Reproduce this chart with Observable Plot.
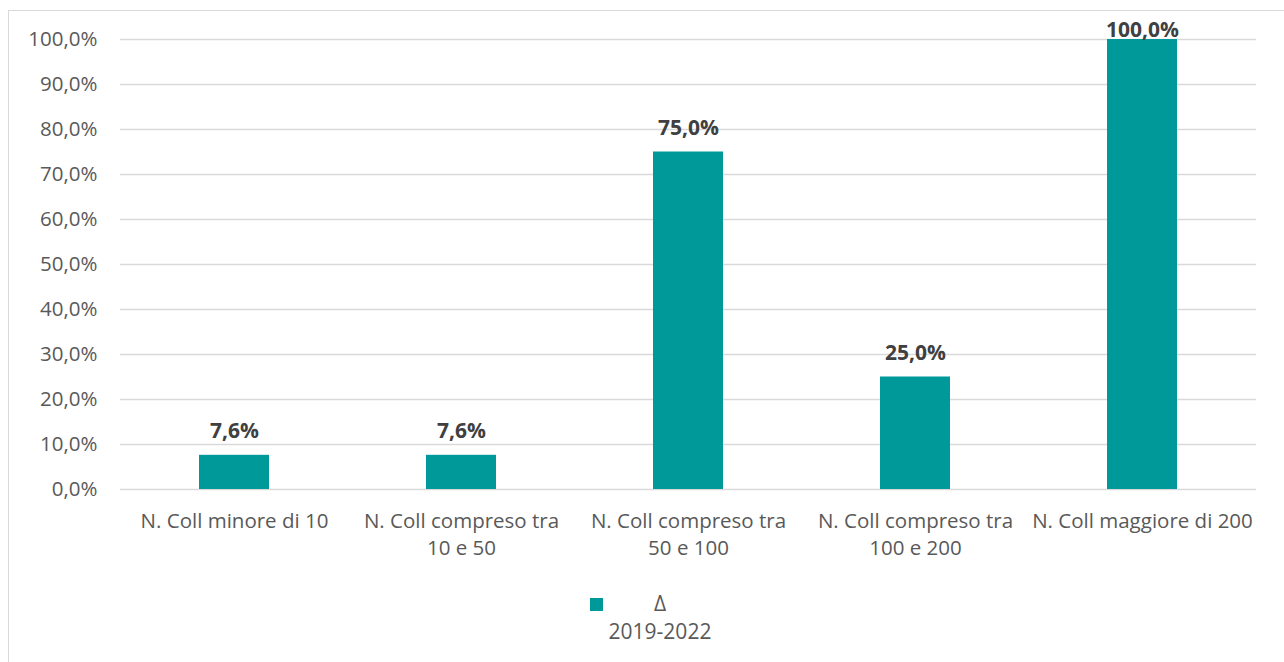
<!DOCTYPE html>
<html><head><meta charset="utf-8">
<script src="https://cdn.jsdelivr.net/npm/d3@7"></script>
<script src="https://cdn.jsdelivr.net/npm/@observablehq/plot@0.6"></script>
<style>
body{margin:0;background:#fff;font-family:"Open Sans",sans-serif;}
#wrap{position:relative;width:1284px;height:662px;overflow:hidden;}
#frame{position:absolute;left:8px;top:10px;width:1300px;height:700px;border:1px solid #d9d9d9;box-sizing:border-box;}
#chart{position:absolute;left:0;top:0;}
#legend{position:absolute;left:560px;top:589px;width:200px;height:60px;color:#595959;font-size:21px;}
#sw{position:absolute;left:30px;top:9px;width:13px;height:13px;background:#009999;}
#l1{position:absolute;left:0;width:200px;top:0px;text-align:center;}
#l2{position:absolute;left:0;width:200px;top:28px;text-align:center;}
</style></head>
<body>
<div id="wrap">
<div id="frame"></div>
<div id="chart"></div>
<div id="legend"><div id="sw"></div><div id="l1">Δ</div><div id="l2">2019-2022</div></div>
</div>
<script>
const categories = ["N. Coll minore di 10","N. Coll compreso tra\n10 e 50","N. Coll compreso tra\n50 e 100","N. Coll compreso tra\n100 e 200","N. Coll maggiore di 200"];
const values = [7.6, 7.6, 75.0, 25.0, 100.0];
const yTicks = [0,10,20,30,40,50,60,70,80,90,100];
const data = categories.map((c,i)=>({cat:c, v:values[i]}));
const fmt = d => d.toFixed(1).replace(".", ",") + "%";
const chart = Plot.plot({
  width:1284, height:570,
  marginTop:39, marginBottom:81, marginLeft:120, marginRight:28,
  style:{fontFamily:"'Open Sans',sans-serif", fontSize:"20.5px", color:"#595959", background:"transparent"},
  x:{domain:categories, paddingInner:0.69, paddingOuter:0.345, align:0.5, label:null, tickSize:0},
  y:{domain:[0,100], ticks:yTicks, label:null, tickSize:0, tickFormat:fmt},
  marks:[
    Plot.gridY(yTicks,{stroke:"#d9d9d9", strokeOpacity:1, strokeWidth:1.5}),
    Plot.axisY(yTicks,{tickSize:0, tickPadding:23, tickFormat:fmt, fill:"#595959", fontSize:20.5, label:null}),
    Plot.axisX({tickSize:0, tickPadding:19, fill:"#595959", fontSize:20.5, lineHeight:1.34, label:null}),
    Plot.barY(data,{x:"cat", y:"v", fill:"#009999"}),
    Plot.text(data.filter(d=>d.v<100),{x:"cat", y:"v", text:d=>fmt(d.v), dy:-24, fill:"#404040", fontWeight:"bold", fontSize:21}),
    Plot.text(data.filter(d=>d.v>=100),{x:"cat", y:"v", text:d=>fmt(d.v), dy:-9, fill:"#404040", fontWeight:"bold", fontSize:21})
  ]
});
document.getElementById("chart").appendChild(chart);
</script>
</body></html>
